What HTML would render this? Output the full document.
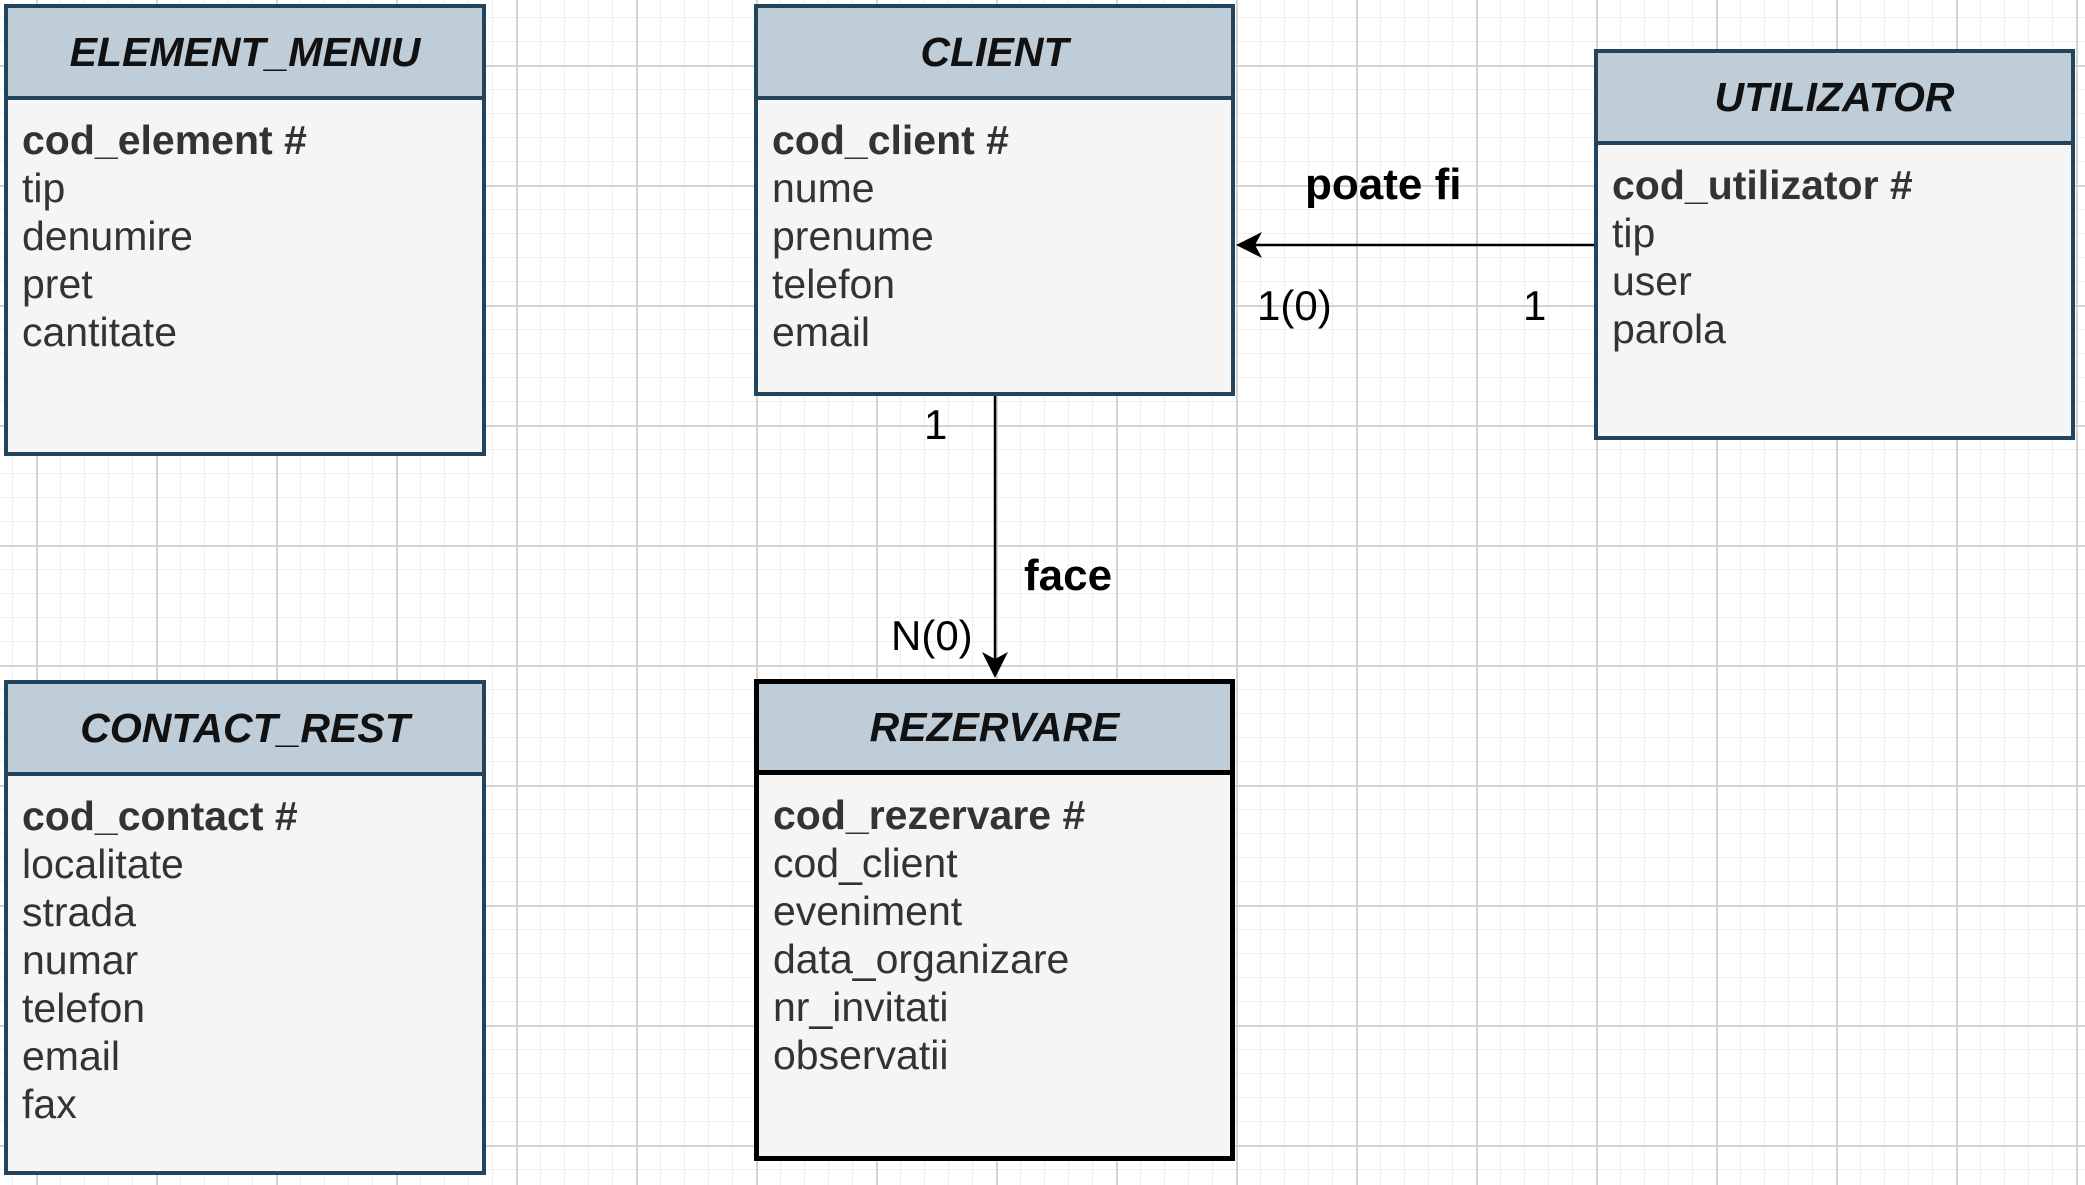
<!DOCTYPE html>
<html><head><meta charset="utf-8"><style>
body{margin:0;width:2085px;height:1185px;overflow:hidden;position:relative;font-family:"Liberation Sans",sans-serif;
background-color:#fff;
background-image:
linear-gradient(to right,#d4d4d4 2px,transparent 2px),
linear-gradient(to bottom,#d4d4d4 2px,transparent 2px),
linear-gradient(to right,#efefef 1px,transparent 1px),
linear-gradient(to bottom,#efefef 1px,transparent 1px);
background-size:120px 120px,120px 120px,24px 24px,24px 24px;
background-position:36px 0,0 65px,12px 0,0 17px;}
.box{position:absolute;box-sizing:border-box;border:4px solid #23445d;background:#f5f5f5;}
.hd{position:absolute;left:0;right:0;top:0;box-sizing:border-box;background:#bfcdd9;border-bottom:4px solid #23445d;
font-weight:bold;font-style:italic;font-size:41px;color:#111;text-align:center;}
.bd{position:absolute;left:14px;font-size:41px;line-height:48px;color:#333;}
.bd b{color:#333}
.lbl{position:absolute;font-size:42px;color:#000;white-space:nowrap;}
</style></head><body>

<div class="box" style="left:4px;top:4px;width:482px;height:452px;">
<div class="hd" style="height:92px;line-height:88px;">ELEMENT_MENIU</div>
<div class="bd" style="top:108px;"><b>cod_element #</b><br>tip<br>denumire<br>pret<br>cantitate</div></div>

<div class="box" style="left:754px;top:4px;width:481px;height:392px;">
<div class="hd" style="height:92px;line-height:88px;">CLIENT</div>
<div class="bd" style="top:108px;"><b>cod_client #</b><br>nume<br>prenume<br>telefon<br>email</div></div>

<div class="box" style="left:1594px;top:49px;width:481px;height:391px;">
<div class="hd" style="height:92px;line-height:88px;">UTILIZATOR</div>
<div class="bd" style="top:108px;"><b>cod_utilizator #</b><br>tip<br>user<br>parola</div></div>

<div class="box" style="left:4px;top:680px;width:482px;height:495px;">
<div class="hd" style="height:92px;line-height:88px;">CONTACT_REST</div>
<div class="bd" style="top:108px;"><b>cod_contact #</b><br>localitate<br>strada<br>numar<br>telefon<br>email<br>fax</div></div>

<div class="box" style="left:754px;top:679px;width:481px;height:482px;border:5px solid #000;">
<div class="hd" style="height:91px;line-height:86px;border-bottom:5px solid #000;">REZERVARE</div>
<div class="bd" style="top:107px;"><b>cod_rezervare #</b><br>cod_client<br>eveniment<br>data_organizare<br>nr_invitati<br>observatii</div></div>

<svg width="2085" height="1185" style="position:absolute;left:0;top:0">
<line x1="1594" y1="245" x2="1240" y2="245" stroke="#000" stroke-width="2.5"/>
<path d="M1236 245 L1262 232 L1255 245 L1262 258 Z" fill="#000"/>
<line x1="995" y1="396" x2="995" y2="670" stroke="#000" stroke-width="2.5"/>
<path d="M995 678 L982 652 L995 659 L1008 652 Z" fill="#000"/>
</svg>

<div class="lbl" style="left:1305px;top:160px;font-weight:bold;font-size:44px;">poate fi</div>
<div class="lbl" style="left:1257px;top:282px;">1(0)</div>
<div class="lbl" style="left:1523px;top:282px;">1</div>
<div class="lbl" style="left:924px;top:401px;">1</div>
<div class="lbl" style="left:1024px;top:551px;font-weight:bold;font-size:44px;">face</div>
<div class="lbl" style="left:891px;top:612px;">N(0)</div>
</body></html>
